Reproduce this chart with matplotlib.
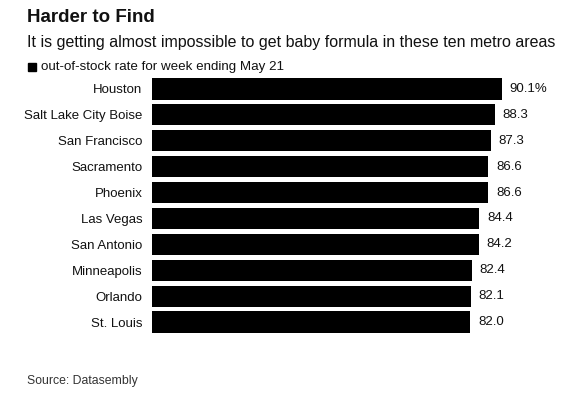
import matplotlib.pyplot as plt
import numpy as np

plt.rcParams['font.family'] = ['Liberation Sans', 'DejaVu Sans']

# data
cities = ["Houston", "Salt Lake City Boise", "San Francisco", "Sacramento", "Phoenix",
          "Las Vegas", "San Antonio", "Minneapolis", "Orlando", "St. Louis"]
rates = [90.1, 88.3, 87.3, 86.6, 86.6, 84.4, 84.2, 82.4, 82.1, 82.0]
value_labels = ["90.1%", "88.3", "87.3", "86.6", "86.6", "84.4", "84.2", "82.4", "82.1", "82.0"]

W, H = 578, 399
fig = plt.figure(figsize=(W / 100, H / 100), dpi=100)

# axes in pixel coords
left, top, right, bottom = 152, 76, 540, 335
ax = fig.add_axes([left / W, 1 - bottom / H, (right - left) / W, (bottom - top) / H])

y = np.arange(len(cities))
ax.barh(y, rates, height=0.82, color='black')
ax.set_ylim(len(cities) - 0.5, -0.5)
ax.set_xlim(0, 100)
ax.set_yticks(y)
ax.set_yticklabels(cities, fontsize=9.5, color='#111111')
ax.tick_params(axis='y', length=0, pad=7)
ax.set_xticks([])
for s in ax.spines.values():
    s.set_visible(False)

for yi, v, lab in zip(y, rates, value_labels):
    ax.text(v + 2.1, yi, lab, va='center', ha='left', fontsize=9.5, color='#111111')

# header
fig.text(27 / W, 1 - 17 / H, "Harder to Find", fontsize=13.5, fontweight='bold',
         va='center', ha='left', color='#111111')
fig.text(27 / W, 1 - 42 / H,
         "It is getting almost impossible to get baby formula in these ten metro areas",
         fontsize=11.5, va='center', ha='left', color='#111111')
fig.patches.append(plt.Rectangle((28 / W, 1 - 71 / H), 8 / W, 8 / H, color='black',
                                 transform=fig.transFigure, figure=fig))
fig.text(41 / W, 1 - 67 / H, "out-of-stock rate for week ending May 21",
         fontsize=9.6, va='center', ha='left', color='#111111')

fig.text(27 / W, 1 - 381 / H, "Source: Datasembly", fontsize=8.8,
         va='center', ha='left', color='#333333')

fig.savefig("out.png", dpi=100)
